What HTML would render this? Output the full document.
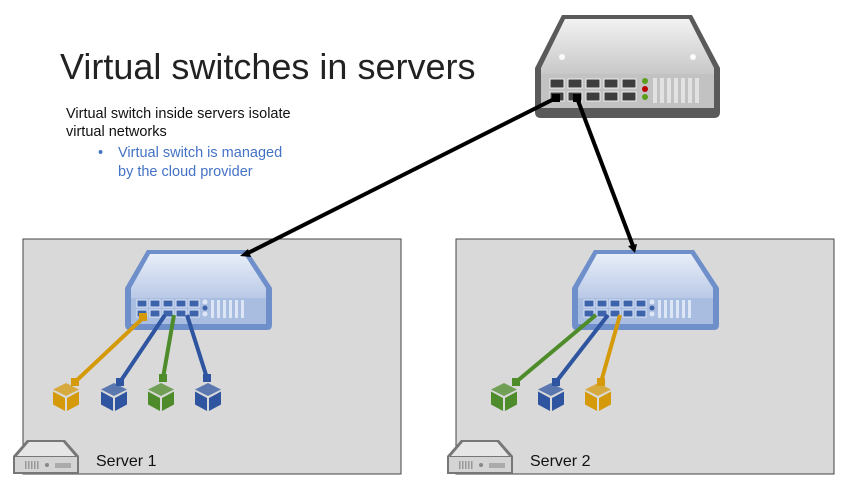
<!DOCTYPE html>
<html><head><meta charset="utf-8"><style>
body{margin:0;background:#fff;}
svg{display:block;font-family:"Liberation Sans","DejaVu Sans",sans-serif;}
</style></head><body>
<svg width="859" height="482" viewBox="0 0 859 482" xmlns="http://www.w3.org/2000/svg">
<defs>
<linearGradient id="gt" x1="0" y1="0" x2="0" y2="1"><stop offset="0" stop-color="#f2f2f2"/><stop offset="1" stop-color="#c8c8c8"/></linearGradient>
<linearGradient id="bt" x1="0" y1="0" x2="0" y2="1"><stop offset="0" stop-color="#e8eef8"/><stop offset="1" stop-color="#b9c9e6"/></linearGradient>
<g id="bsw">
<path d="M22,0 H122 L147,38 V75 Q147,80 142,80 H5 Q0,80 0,75 V38 Z" fill="#6f8fcb"/>
<path d="M25,4 H119 L141,38 V48 H6 V38 Z" fill="url(#bt)"/>
<rect x="6" y="48" width="135" height="26" fill="#a9bde0"/>
<g fill="#3d64aa" stroke="#dde6f5" stroke-width="1">
<rect x="12" y="50" width="10" height="7"/><rect x="25" y="50" width="10" height="7"/><rect x="38" y="50" width="10" height="7"/><rect x="51" y="50" width="10" height="7"/><rect x="64" y="50" width="10" height="7"/>
<rect x="12" y="60" width="10" height="7"/><rect x="25" y="60" width="10" height="7"/><rect x="38" y="60" width="10" height="7"/><rect x="51" y="60" width="10" height="7"/><rect x="64" y="60" width="10" height="7"/>
</g>
<circle cx="80" cy="52" r="2.5" fill="#dde6f5"/><circle cx="80" cy="58" r="2.5" fill="#3d64aa"/><circle cx="80" cy="64" r="2.5" fill="#dde6f5"/>
<g fill="#dde6f5"><rect x="86" y="50" width="3" height="18"/><rect x="92" y="50" width="3" height="18"/><rect x="98" y="50" width="3" height="18"/><rect x="104" y="50" width="3" height="18"/><rect x="110" y="50" width="3" height="18"/><rect x="116" y="50" width="3" height="18"/></g>
</g>
<g id="cube"><path d="M0,-14 L13,-7.5 L0,-1 L-13,-7.5 Z" fill-opacity="0.75"/><path d="M-13,-5.5 L-1,1 V14 L-13,7.5 Z"/><path d="M13,-5.5 L1,1 V14 L13,7.5 Z"/></g>
<g id="srv">
<path d="M14,0 H52 L66,16 V34 H0 V16 Z" fill="#777"/>
<path d="M16,2 H50 L62,16 H4 Z" fill="#e6e6e6"/>
<rect x="2" y="17" width="62" height="15" fill="#d4d4d4"/>
<g fill="#999"><rect x="12" y="21" width="1.5" height="8"/><rect x="15" y="21" width="1.5" height="8"/><rect x="18" y="21" width="1.5" height="8"/><rect x="21" y="21" width="1.5" height="8"/><rect x="24" y="21" width="1.5" height="8"/></g>
<rect x="42" y="23" width="16" height="5" fill="#aaa"/><circle cx="34" cy="25" r="2" fill="#888"/>
</g>
</defs>

<rect x="23" y="239" width="378" height="235" fill="#d9d9d9" stroke="#444" stroke-width="1"/>
<rect x="456" y="239" width="378" height="235" fill="#d9d9d9" stroke="#444" stroke-width="1"/>

<text x="60" y="79" font-size="36" fill="#222">Virtual switches in servers</text>
<text x="66" y="118" font-size="14.5" fill="#111">Virtual switch inside servers isolate</text>
<text x="66" y="136" font-size="14.5" fill="#111">virtual networks</text>
<text x="98" y="157" font-size="14.5" fill="#4472c4">•</text>
<text x="118" y="157" font-size="14.5" fill="#4472c4">Virtual switch is managed</text>
<text x="118" y="176" font-size="14.5" fill="#4472c4">by the cloud provider</text>

<g>
<path d="M562,15 H692 L720,68 V112 Q720,118 714,118 H541 Q535,118 535,112 V68 Z" fill="#5a5a5a"/>
<path d="M565,19 H689 L714,68 V74 H541 V68 Z" fill="url(#gt)"/>
<circle cx="562" cy="57" r="3" fill="#fafafa"/><circle cx="693" cy="57" r="3" fill="#fafafa"/>
<rect x="541" y="74" width="173" height="34" fill="#c2c2c2"/>
<g fill="#3d3d3d" stroke="#eee" stroke-width="1">
<rect x="550" y="79" width="14" height="9"/><rect x="568" y="79" width="14" height="9"/><rect x="586" y="79" width="14" height="9"/><rect x="604" y="79" width="14" height="9"/><rect x="622" y="79" width="14" height="9"/>
<rect x="550" y="92" width="14" height="9"/><rect x="568" y="92" width="14" height="9"/><rect x="586" y="92" width="14" height="9"/><rect x="604" y="92" width="14" height="9"/><rect x="622" y="92" width="14" height="9"/>
</g>
<circle cx="645" cy="81" r="3" fill="#5a9e1c"/><circle cx="645" cy="89" r="3" fill="#b00"/><circle cx="645" cy="97" r="3" fill="#5a9e1c"/>
<g fill="#e2e2e2"><rect x="653" y="78" width="4" height="25"/><rect x="660" y="78" width="4" height="25"/><rect x="667" y="78" width="4" height="25"/><rect x="674" y="78" width="4" height="25"/><rect x="681" y="78" width="4" height="25"/><rect x="688" y="78" width="4" height="25"/><rect x="695" y="78" width="4" height="25"/></g>
</g>

<use href="#bsw" x="125" y="250"/>
<use href="#bsw" x="572" y="250"/>

<g stroke="#000" stroke-width="4" fill="none">
<line x1="556" y1="98" x2="246" y2="254"/>
<line x1="577" y1="98" x2="633" y2="246"/>
</g>
<g fill="#000"><rect x="552" y="94" width="8" height="8"/><rect x="573" y="94" width="8" height="8"/>
<path d="M240,256 l8,-7 l3,8 z"/><path d="M628,246 l9,-2 l-2,9 z"/></g>

<g stroke-width="4" fill="none">
<line x1="143" y1="318" x2="75" y2="382" stroke="#d49a0a"/>
<line x1="165" y1="315" x2="120" y2="382" stroke="#2f55a0"/>
<line x1="174" y1="315" x2="163" y2="378" stroke="#4e8b2a"/>
<line x1="187" y1="315" x2="207" y2="378" stroke="#2f55a0"/>
<line x1="596" y1="315" x2="516" y2="382" stroke="#4e8b2a"/>
<line x1="608" y1="315" x2="556" y2="382" stroke="#2f55a0"/>
<line x1="620" y1="315" x2="601" y2="382" stroke="#d49a0a"/>
</g>
<g>
<rect x="139" y="313" width="8" height="8" fill="#d49a0a"/>
<rect x="71" y="378" width="8" height="8" fill="#d49a0a"/><rect x="116" y="378" width="8" height="8" fill="#2f55a0"/><rect x="159" y="374" width="8" height="8" fill="#4e8b2a"/><rect x="203" y="374" width="8" height="8" fill="#2f55a0"/>
<rect x="512" y="378" width="8" height="8" fill="#4e8b2a"/><rect x="552" y="378" width="8" height="8" fill="#2f55a0"/><rect x="597" y="378" width="8" height="8" fill="#d49a0a"/>
</g>
<use href="#cube" x="66" y="397" fill="#d49a0a"/>
<use href="#cube" x="114" y="397" fill="#2f55a0"/>
<use href="#cube" x="161" y="397" fill="#4e8b2a"/>
<use href="#cube" x="208" y="397" fill="#2f55a0"/>
<use href="#cube" x="504" y="397" fill="#4e8b2a"/>
<use href="#cube" x="551" y="397" fill="#2f55a0"/>
<use href="#cube" x="598" y="397" fill="#d49a0a"/>

<use href="#srv" x="13" y="440"/>
<use href="#srv" x="447" y="440"/>
<text x="96" y="466" font-size="16" fill="#111">Server 1</text>
<text x="530" y="466" font-size="16" fill="#111">Server 2</text>
</svg>
</body></html>
